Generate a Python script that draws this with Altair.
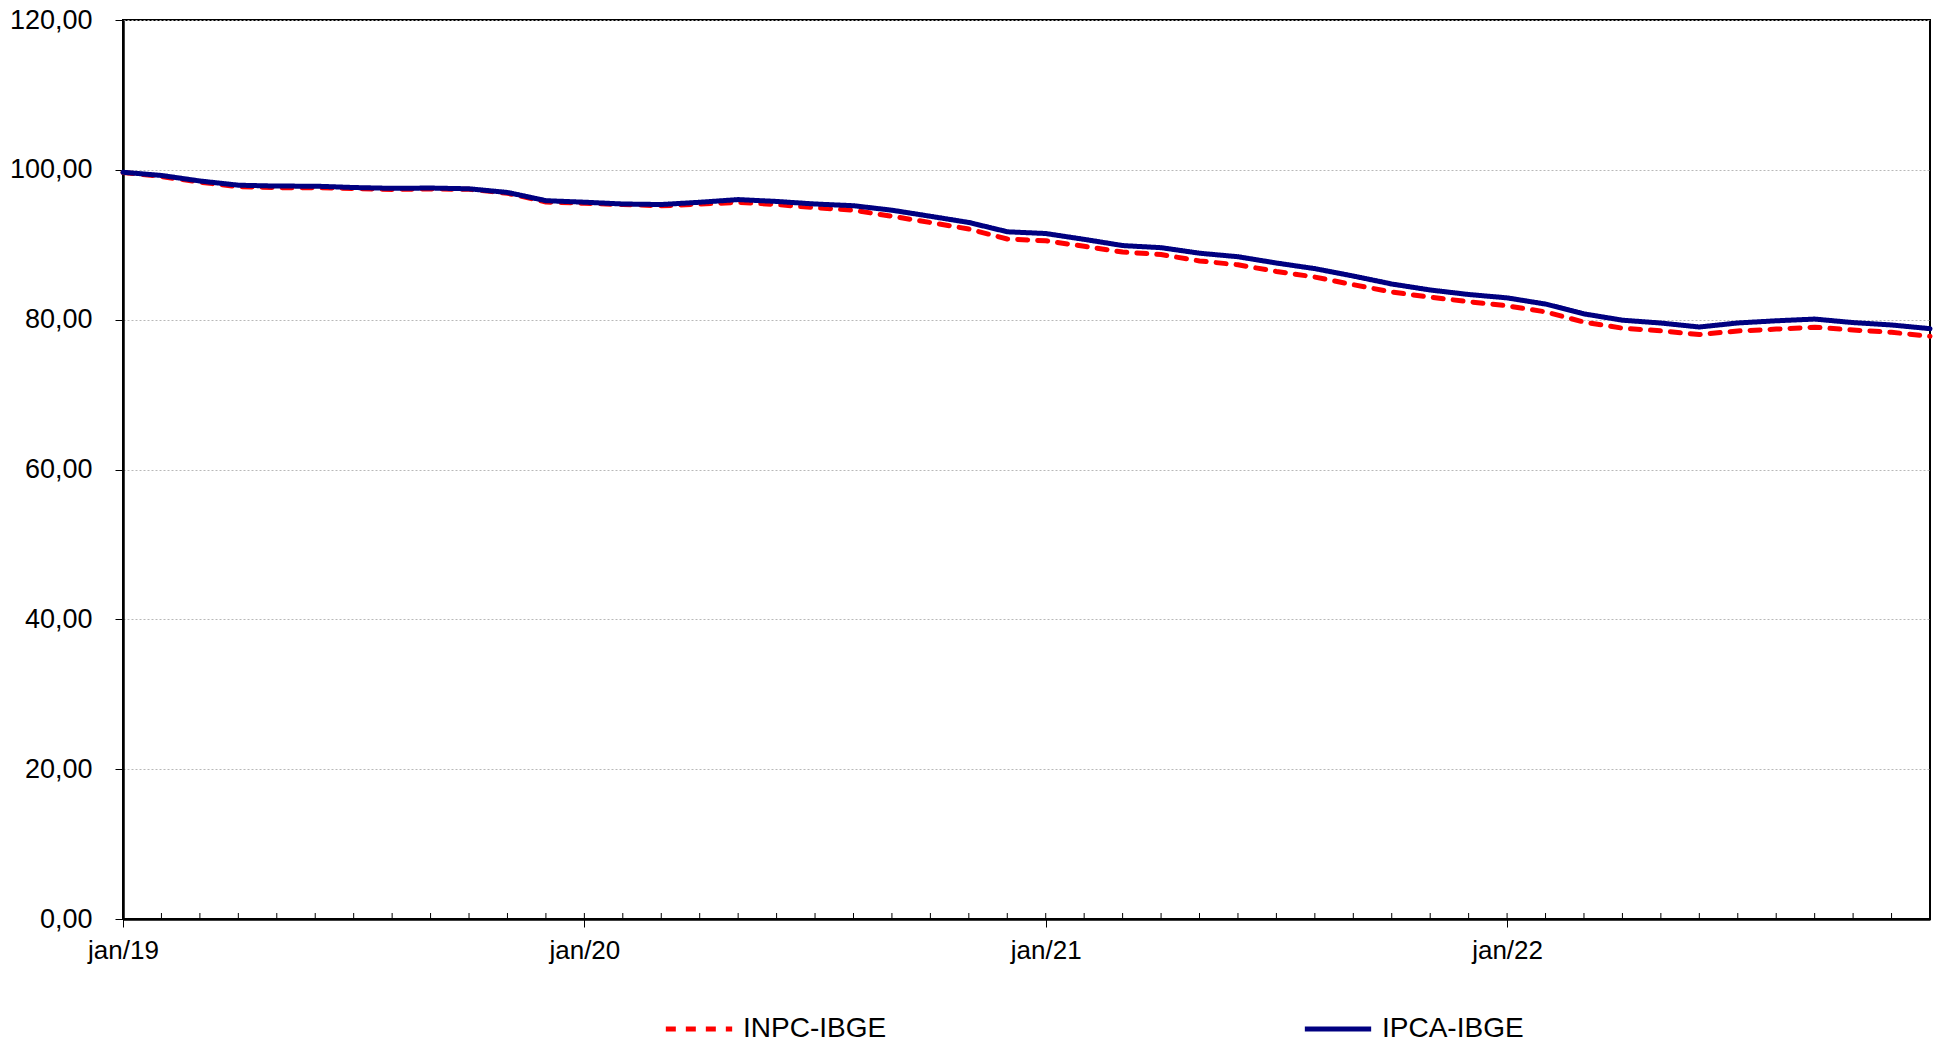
import altair as alt
import pandas as pd

years = ["19", "20", "21", "22"]
month_abbr = ["jan", "fev", "mar", "abr", "mai", "jun", "jul", "ago", "set", "out", "nov", "dez"]
months = [f"{m}/{y}" for y in years for m in month_abbr]

inpc = [99.64, 99.11, 98.35, 97.76, 97.62, 97.61, 97.51, 97.39, 97.44, 97.40, 96.88, 95.71,
        95.53, 95.37, 95.20, 95.42, 95.66, 95.37, 94.95, 94.61, 93.80, 92.97, 92.10, 90.77,
        90.53, 89.79, 89.03, 88.69, 87.84, 87.32, 86.44, 85.69, 84.67, 83.70, 83.00, 82.40,
        81.85, 81.04, 79.68, 78.86, 78.51, 78.02, 78.49, 78.74, 78.99, 78.62, 78.32, 77.78]
ipca = [99.68, 99.25, 98.51, 97.95, 97.83, 97.82, 97.64, 97.53, 97.57, 97.47, 96.98, 95.88,
        95.68, 95.44, 95.37, 95.67, 96.03, 95.78, 95.44, 95.21, 94.61, 93.80, 92.97, 91.73,
        91.50, 90.72, 89.89, 89.61, 88.87, 88.40, 87.56, 86.81, 85.82, 84.76, 83.96, 83.36,
        82.91, 82.08, 80.77, 79.93, 79.55, 79.02, 79.56, 79.85, 80.08, 79.61, 79.29, 78.80]
series_names = ["INPC-IBGE", "IPCA-IBGE"]
y_ticks = [0, 20, 40, 60, 80, 100, 120]
x_labels = [m for m in months if m.startswith("jan")]

rows = []
for name, vals in zip(series_names, [inpc, ipca]):
    for m, v in zip(months, vals):
        rows.append({"mes": m, "valor": v, "serie": name})
df = pd.DataFrame(rows)
ticks_df = pd.DataFrame({"mes": months})

FONT = "Liberation Sans"
x_scale = alt.Scale(type="point", padding=0, domain=months)
y_scale = alt.Scale(domain=[0, 120], nice=False, zero=True)

x_axis = alt.Axis(
    title=None, values=x_labels, labelAngle=0, labelAlign="center", labelBaseline="top",
    labelFontSize=26, labelFont=FONT, labelColor="black", tickSize=8, tickColor="black",
    tickWidth=1, domainColor="black", domainWidth=2.5, labelPadding=10, grid=False,
)
y_axis = alt.Axis(
    title=None, values=y_ticks, labelFontSize=27, labelFont=FONT, labelColor="black",
    labelExpr="replace(format(datum.value, '.2f'), '.', ',')",
    tickSize=8, tickColor="black", domainColor="black", domainWidth=2.5,
    labelPadding=23, grid=True, gridColor="#b8b8b8", gridDash=[2, 2], gridWidth=1,
)

legend_kw = dict(
    title=None, orient="none", direction="horizontal", columns=2,
    legendX=540, legendY=973, columnPadding=407, labelFontSize=28, labelFont=FONT,
    labelColor="black", symbolType="stroke", symbolSize=4400, symbolStrokeWidth=5,
    labelOffset=8, padding=0,
)

lines = alt.Chart(df).mark_line(strokeWidth=5, strokeCap="round", strokeJoin="round").encode(
    x=alt.X("mes:O", sort=months, scale=x_scale, axis=x_axis),
    y=alt.Y("valor:Q", scale=y_scale, axis=y_axis),
    color=alt.Color(
        "serie:N",
        scale=alt.Scale(domain=series_names, range=["#ff0000", "#000080"]),
        legend=alt.Legend(**legend_kw),
    ),
    strokeDash=alt.StrokeDash(
        "serie:N",
        scale=alt.Scale(domain=series_names, range=[[10, 10], [1, 0]]),
        legend=alt.Legend(**legend_kw),
    ),
)

minor_ticks = alt.Chart(ticks_df).mark_rule(color="black", strokeWidth=1).encode(
    x=alt.X("mes:O", sort=months, scale=x_scale, axis=x_axis),
    y=alt.Y(datum=0, scale=y_scale, axis=y_axis),
    y2=alt.datum(0.8),
)

chart = alt.layer(minor_ticks, lines).properties(
    width=1807,
    height=899,
    autosize=alt.AutoSizeParams(type="none"),
    padding={"left": 123, "top": 20, "right": 10, "bottom": 129},
    background="white",
).configure_view(stroke="black", strokeWidth=2)

chart.save("out.html", embed_options={"renderer": "svg", "actions": False})
